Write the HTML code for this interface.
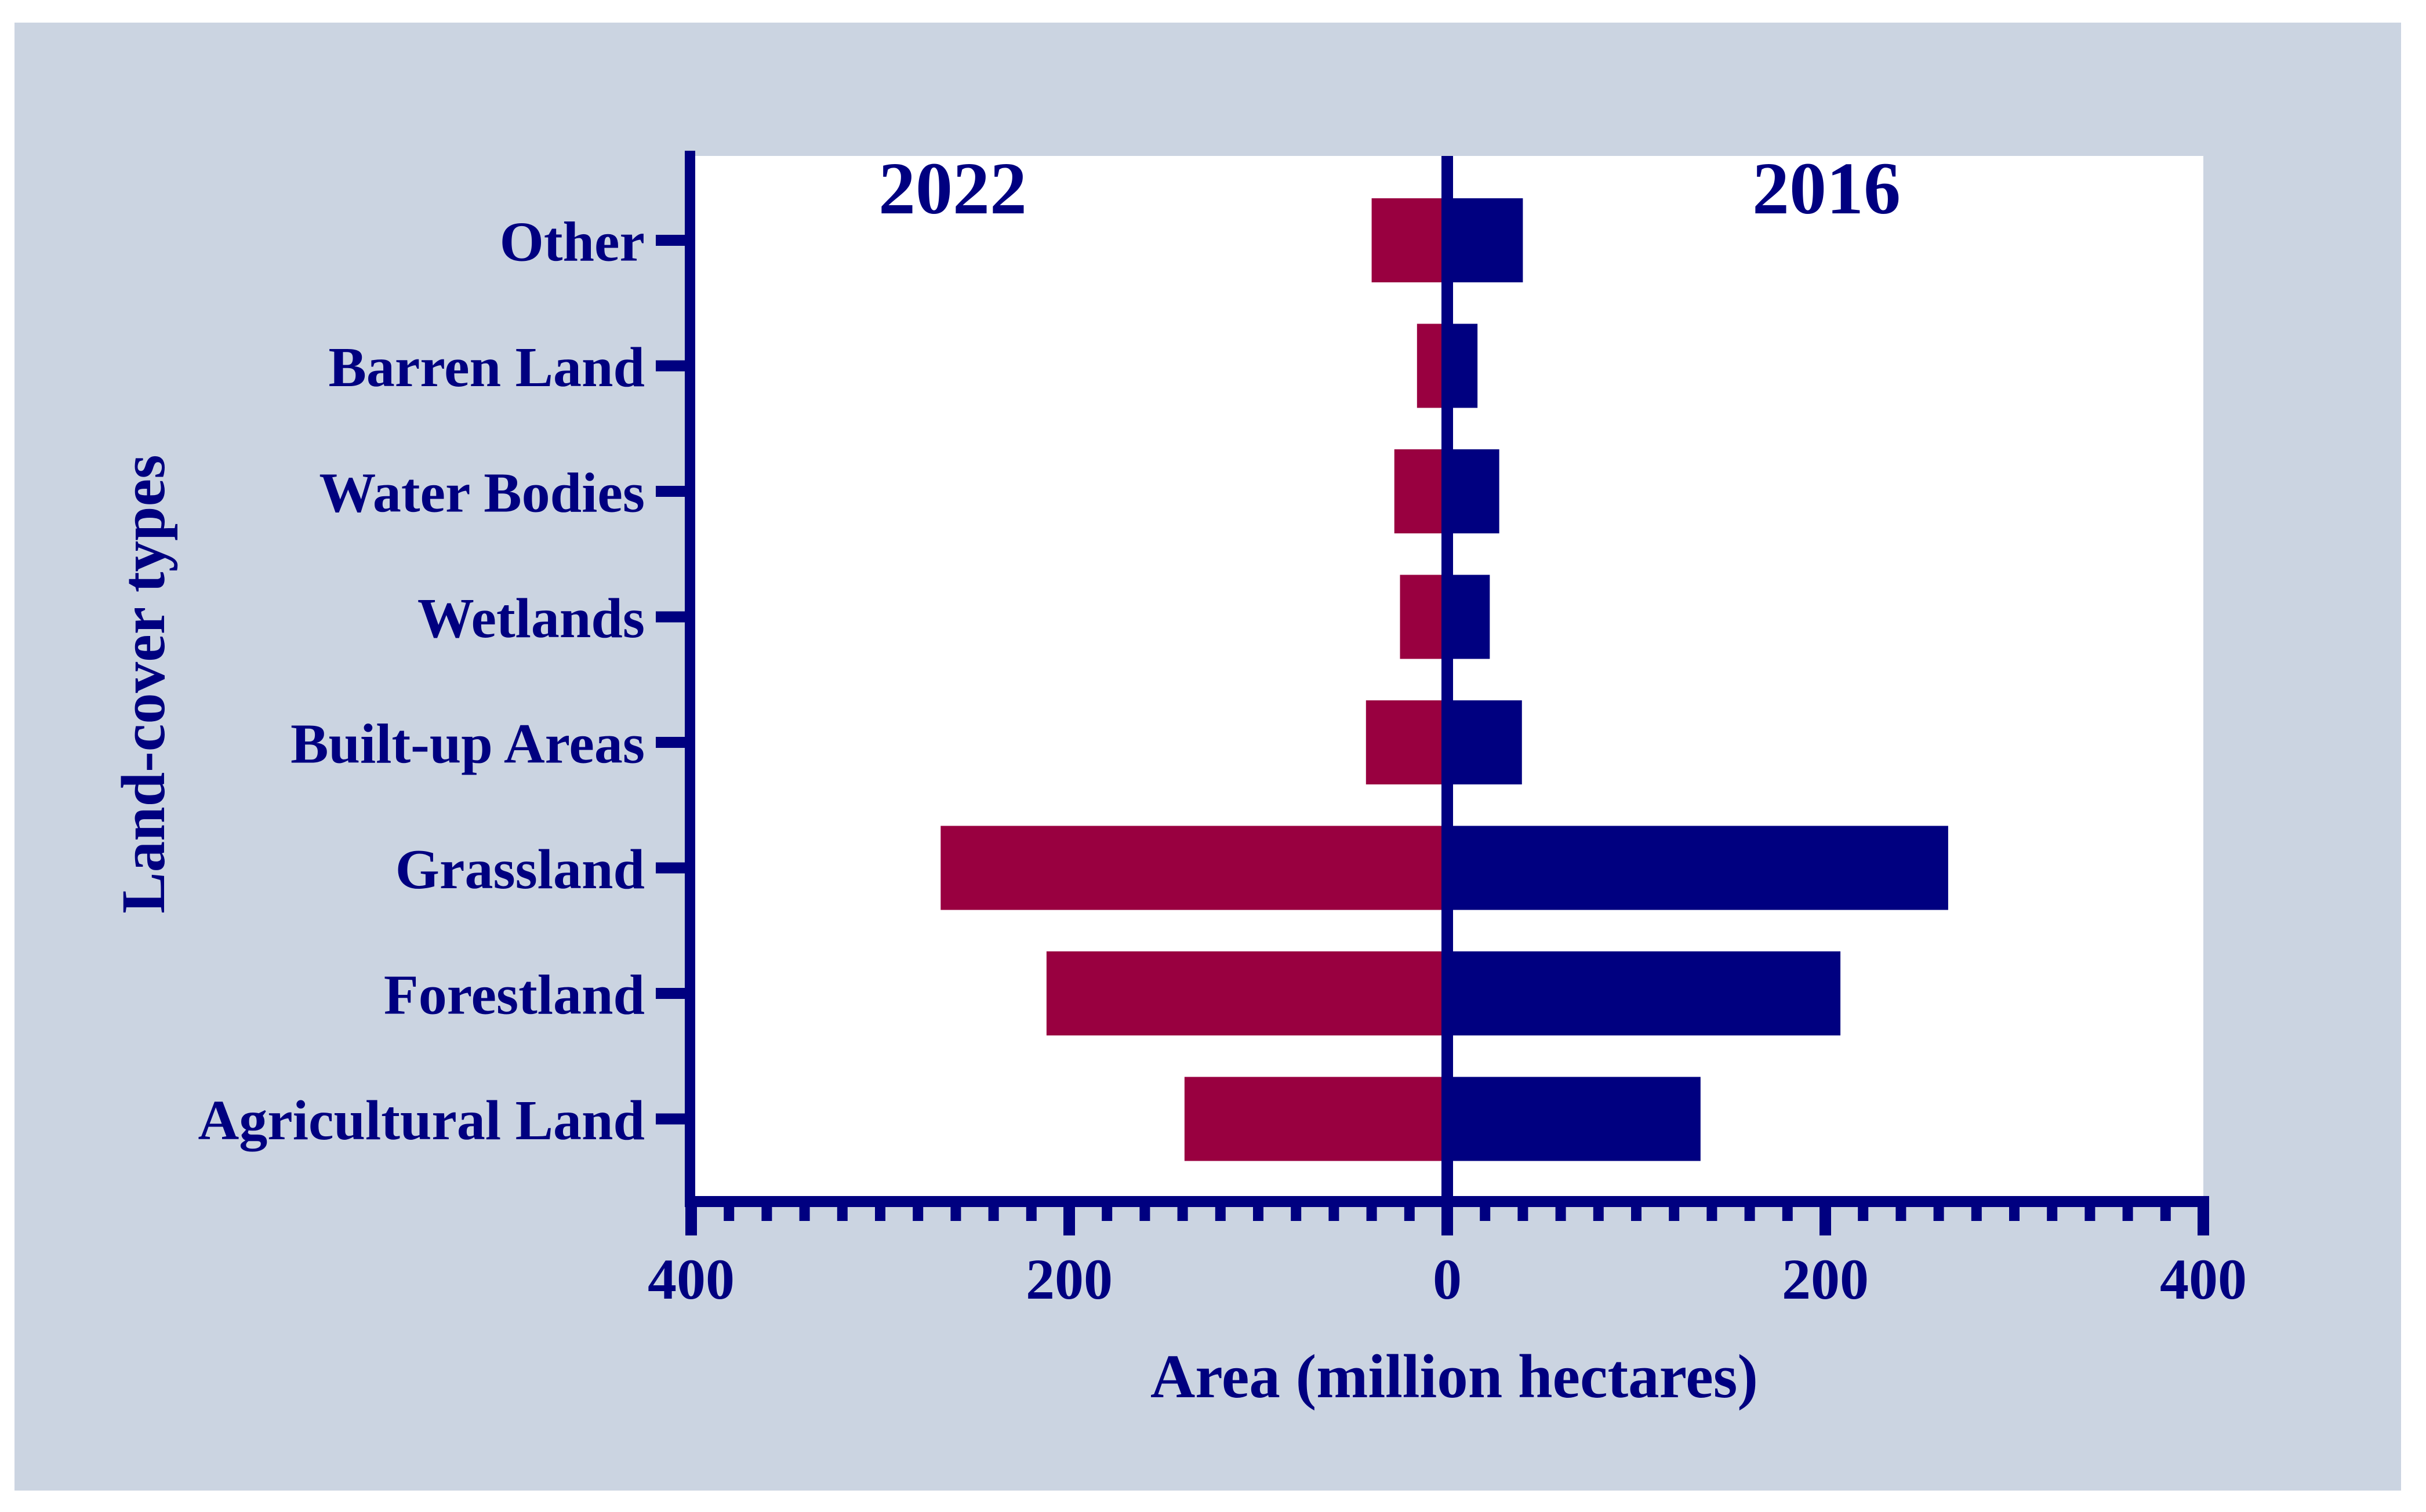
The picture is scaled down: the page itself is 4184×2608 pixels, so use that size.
<!DOCTYPE html>
<html><head><meta charset="utf-8"><style>
html,body{margin:0;padding:0;background:#fff;}
svg{display:block;}
text{font-family:"Liberation Serif",serif;font-weight:bold;fill:#000080;}
</style></head><body>
<svg id="chart" width="4184" height="2608" viewBox="0 0 4184 2608" xmlns="http://www.w3.org/2000/svg">
<rect x="25" y="39" width="4116" height="2532" fill="#CBD4E1"/>
<rect x="1199" y="269" width="2601" height="1794" fill="#ffffff"/>
<g id="bars"></g>
<g id="axes"></g>
<text x="1643" y="368" font-size="128" text-anchor="middle">2022</text>
<text x="3150" y="368" font-size="128" text-anchor="middle">2016</text>
<text x="2508" y="2410" font-size="107" text-anchor="middle">Area (million hectares)</text>
<text x="0" y="0" font-size="107" text-anchor="middle" transform="translate(283,1180) rotate(-90)">Land-cover types</text>
</svg>
<script>
const categories = ["Other","Barren Land","Water Bodies","Wetlands","Built-up Areas","Grassland","Forestland","Agricultural Land"];
const values2022 = [40,16,28,25,43,268,212,139];
const values2016 = [40,16,27.5,22.5,39.5,265,208,134];
const tickValues = [-400,-200,0,200,400];
const tickLabels = ["400","200","0","200","400"];

const NS="http://www.w3.org/2000/svg";
const x0=2496, pxPerUnit=3.26;
function xScale(v){return x0+v*pxPerUnit;}
const rowTop=414.5, rowStep=216.5, barH=145;
function yScale(i){return rowTop+i*rowStep;}
function mk(tag,attrs,parent){const e=document.createElementNS(NS,tag);for(const k in attrs)e.setAttribute(k,attrs[k]);parent.appendChild(e);return e;}
const bars=document.getElementById('bars'), axes=document.getElementById('axes');

categories.forEach((c,i)=>{
  const cy=yScale(i);
  const slug=c.toLowerCase().replace(/[^a-z]+/g,'-');
  const r=mk('rect',{x:xScale(-values2022[i]),y:cy-barH/2,width:xScale(0)-xScale(-values2022[i]),height:barH,fill:'#990040'},bars);
  
  
  const b=mk('rect',{x:xScale(0),y:cy-barH/2,width:xScale(values2016[i])-xScale(0),height:barH,fill:'#000080'},bars);
  
  
  const t=mk('rect',{x:1131,y:cy-9.5,width:60,height:19,fill:'#000080'},axes);
  
  
  const l=mk('text',{x:1112,y:cy+35,'font-size':98,'text-anchor':'end'},axes);
  l.textContent=c;
  
  
});

const la=mk('rect',{x:1181,y:260,width:18,height:1822,fill:'#000080'},axes);


const ca=mk('rect',{x:xScale(0)-10,y:269,width:20,height:1794,fill:'#000080'},axes);


const ba=mk('rect',{x:1181,y:2063,width:2629,height:19,fill:'#000080'},axes);



for(let v=-380;v<400;v+=20){
  if(v%200===0)continue;
  const m=mk('rect',{x:xScale(v)-9,y:2080,width:18,height:26,fill:'#000080'},axes);
  
  
}
tickValues.forEach((v,i)=>{
  const m=mk('rect',{x:xScale(v)-10,y:2080,width:20,height:51,fill:'#000080'},axes);
  
  
  const t=mk('text',{x:xScale(v),y:2240,'font-size':100,'text-anchor':'middle'},axes);
  t.textContent=tickLabels[i];
  
  
});
</script>
</body></html>
